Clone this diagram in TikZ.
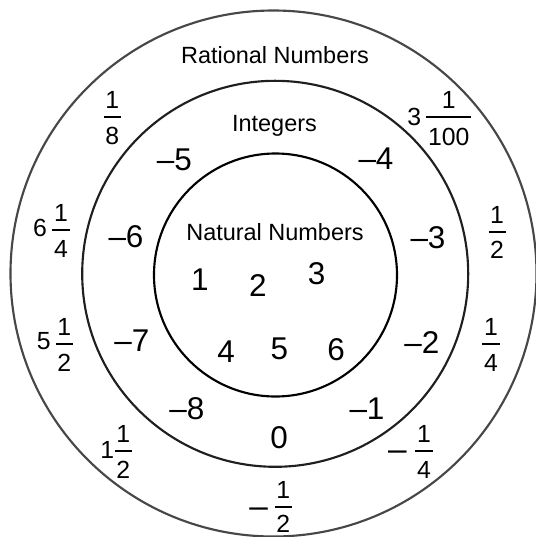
\documentclass[tikz,border=0pt]{standalone}
\usepackage{fontspec}
\setmainfont{Liberation Sans}
\newcommand\fracat[7]{%
  \node[frt] (#1n) at (#2,#3-8.4) {#4};
  \node[frt] (#1d) at (#2,#3+#7) {#5};
  \draw[fbar] (#2-#6,#3) -- (#2+#6,#3);
}
\begin{document}
\begin{tikzpicture}[x=0.75pt,y=-0.75pt,
  ring/.style={line width=1.6pt},
  lbl/.style={inner sep=0pt,anchor=base,font=\fontsize{17.6}{20}\selectfont},
  num/.style={inner sep=0pt,anchor=base,font=\fontsize{23.6}{26}\selectfont},
  frt/.style={inner sep=0pt,anchor=base,font=\fontsize{18.6}{21}\selectfont},
  dsh/.style={inner sep=0pt,anchor=base,font=\fontsize{25}{28}\selectfont},
  fbar/.style={line width=1.5pt}]
\useasboundingbox (0,0) rectangle (536,537);
\clip (0,0) rectangle (536,537);
% circles
\draw[ring,draw=black!72] (273.5,273.5) circle[radius=263];
\draw[ring,draw=black!88] (275.2,273.8) circle[radius=193];
\draw[ring,draw=black] (275.5,275) circle[radius=121.5];
% labels
\node[lbl] (rat) at (275,63.5) {Rational Numbers};
\node[lbl] (int) at (274.5,131) {Integers};
\node[lbl] (nat) at (275,240) {Natural Numbers};
% natural numbers
\node[num] (n1) at (200,290) {1};
\node[num] (n2) at (258,296.7) {2};
\node[num] (n3) at (316.5,284.3) {3};
\node[num] (n4) at (226,362.5) {4};
\node[num] (n5) at (279.5,359.2) {5};
\node[num] (n6) at (336,360.5) {6};
% integers
\node[num] (im5) at (174.5,170.7) {–5};
\node[num] (im4) at (376,169) {–4};
\node[num] (im6) at (126,247) {–6};
\node[num] (im3) at (428,248) {–3};
\node[num] (im7) at (132,351.3) {–7};
\node[num] (im2) at (422,353) {–2};
\node[num] (im8) at (187,419.7) {–8};
\node[num] (im1) at (367,419.7) {–1};
\node[num] (i0) at (279,448) {0};
% rationals
\fracat{ra}{112.3}{116.7}{1}{8}{8.5}{27.8}
\node[frt] (rbw) at (414.3,125) {3};
\fracat{rb}{448.8}{117.3}{1}{100}{22.5}{28.5}
\node[frt] (rcw) at (40,236.7) {6};
\fracat{rc}{61}{230}{1}{4}{9}{27.8}
\fracat{rd}{497}{231.7}{1}{2}{8.5}{26.6}
\node[frt] (rew) at (43.7,349.7) {5};
\fracat{re}{64.3}{344}{1}{2}{8.5}{27.8}
\fracat{rf}{491}{344}{1}{4}{9}{27.3}
\node[frt] (rgw) at (107.3,458) {1};
\fracat{rg}{123.3}{450.7}{1}{2}{8.5}{27.8}
\node[dsh] (rhm) at (397.5,460.3) {–};
\fracat{rh}{424}{450.7}{1}{4}{9}{27.8}
\node[dsh] (rim) at (258.7,517.5) {–};
\fracat{ri}{283.3}{506.8}{1}{2}{8.5}{25.8}
\end{tikzpicture}
\end{document}
